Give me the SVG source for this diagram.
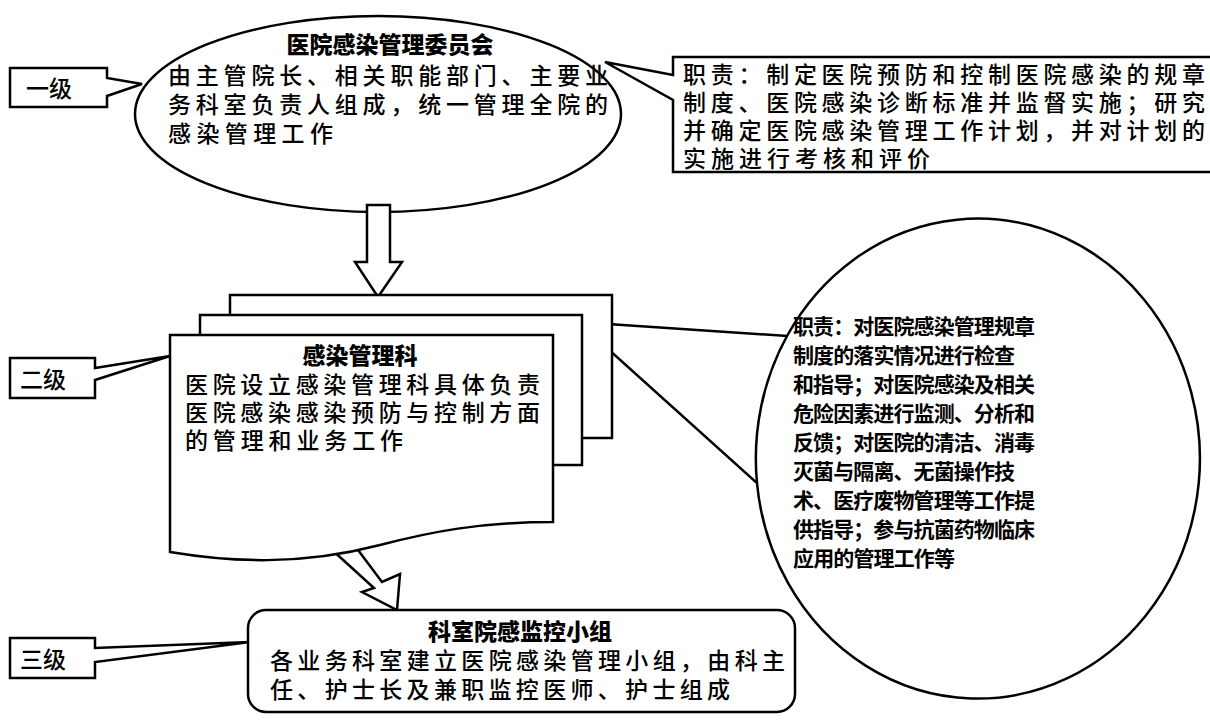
<svg xmlns="http://www.w3.org/2000/svg" width="1210" height="723" viewBox="0 0 1210 723">
<style>
.s{fill:#fff;stroke:#000;stroke-width:2.5}
.t{font-family:"Noto Sans CJK SC","Liberation Sans",sans-serif;font-size:23px;font-weight:500;fill:#000}
.b{font-weight:900}
.c{font-size:21px;font-weight:bold}
</style>
<rect width="1210" height="723" fill="#fff"/>
<g id="level1">
<path class="s" d="M10,68 H107 V78 L142,84 L107,96 V107 H10 Z"/>
<text class="t" x="26" y="97">一级</text>
</g>
<g id="committee">
<ellipse class="s" cx="378" cy="114" rx="243" ry="98"/>
<text class="t b" x="390" y="53" text-anchor="middle">医院感染管理委员会</text>
<text class="t" x="168" y="84" textLength="440">由主管院长、相关职能部门、主要业</text>
<text class="t" x="168" y="113" textLength="440">务科室负责人组成，统一管理全院的</text>
<text class="t" x="168" y="142" textLength="165">感染管理工作</text>
</g>
<g id="duty1">
<path class="s" d="M673,57 H1215 V172 H673 V100 L605,62 L673,75 Z"/>
<text class="t" x="683" y="83" textLength="522">职责：制定医院预防和控制医院感染的规章</text>
<text class="t" x="683" y="111" textLength="522">制度、医院感染诊断标准并监督实施；研究</text>
<text class="t" x="683" y="139" textLength="522">并确定医院感染管理工作计划，并对计划的</text>
<text class="t" x="683" y="167" textLength="247">实施进行考核和评价</text>
</g>
<g id="level2">
<path class="s" d="M10,358 H95 V368 L170,356 L95,380 V398 H10 Z"/>
<text class="t" x="20" y="388">二级</text>
</g>
<g id="duty2">
<path class="s" d="M578,322 L787,336 A222,240 0 1 1 757,483 Z"/>
<path class="s" d="M787,336 A222,240 0 0 0 757,483" fill="none"/>
<text class="t c" x="793" y="334" textLength="242">职责：对医院感染管理规章</text>
<text class="t c" x="793" y="363" textLength="222">制度的落实情况进行检查</text>
<text class="t c" x="793" y="392" textLength="242">和指导；对医院感染及相关</text>
<text class="t c" x="793" y="421" textLength="242">危险因素进行监测、分析和</text>
<text class="t c" x="793" y="450" textLength="242">反馈；对医院的清洁、消毒</text>
<text class="t c" x="793" y="479" textLength="222">灭菌与隔离、无菌操作技</text>
<text class="t c" x="793" y="508" textLength="242">术、医疗废物管理等工作提</text>
<text class="t c" x="793" y="537" textLength="242">供指导；参与抗菌药物临床</text>
<text class="t c" x="793" y="566" textLength="162">应用的管理工作等</text>
</g>
<g id="connectors">
<polygon class="s" points="330,548 352,542 382,582 400,574 397,610 362,592 374,588"/>
<polygon class="s" points="367,205 390,205 390,262 402,262 378,297 355,262 367,262"/>
</g>
<g id="dept">
<rect class="s" x="230" y="295" width="382" height="143"/>
<rect class="s" x="200" y="315" width="382" height="150"/>
<path class="s" d="M170,335 H553 V522 C480,522 430,532 380,545 C300,566 230,562 170,552 Z"/>
<text class="t b" x="360" y="364" text-anchor="middle">感染管理科</text>
<text class="t" x="185" y="393" textLength="355">医院设立感染管理科具体负责</text>
<text class="t" x="185" y="421" textLength="355">医院感染感染预防与控制方面</text>
<text class="t" x="185" y="449" textLength="218">的管理和业务工作</text>
</g>
<g id="level3">
<path class="s" d="M10,638 H95 V648 L250,642 L95,662 V678 H10 Z"/>
<text class="t" x="20" y="668">三级</text>
</g>
<g id="group">
<rect class="s" x="248" y="610" width="547" height="102" rx="18"/>
<text class="t b" x="520" y="640" text-anchor="middle">科室院感监控小组</text>
<text class="t" x="270" y="669" textLength="515">各业务科室建立医院感染管理小组，由科主</text>
<text class="t" x="270" y="698" textLength="460">任、护士长及兼职监控医师、护士组成</text>
</g>
</svg>
